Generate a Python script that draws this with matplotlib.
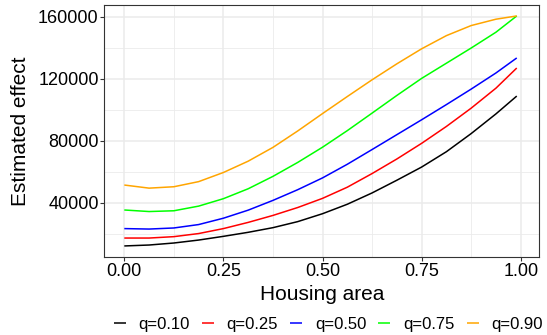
import numpy as np
import matplotlib
matplotlib.use("Agg")
import matplotlib.pyplot as plt

plt.rcParams['font.family'] = ['Liberation Sans', 'DejaVu Sans']

# Values
housing_area = [0.0, 0.0625, 0.125, 0.1875, 0.25, 0.3125, 0.375, 0.4375, 0.5,
                0.5625, 0.625, 0.6875, 0.75, 0.8125, 0.875, 0.9375, 0.99]

effect_q10 = [12100, 12700, 14000, 15900, 18300, 20900, 23900, 27800, 32900,
              39000, 46300, 54500, 63000, 72900, 84600, 97300, 108800]
effect_q25 = [17200, 17200, 18100, 20100, 23300, 27300, 31800, 36900, 42800,
              50000, 58800, 68200, 78300, 89200, 101000, 113900, 126900]
effect_q50 = [23300, 23000, 23700, 25900, 30000, 35200, 41500, 48400, 56000,
              64800, 74300, 83900, 93500, 103300, 113300, 123700, 133400]
effect_q75 = [35300, 34300, 34800, 37800, 42600, 49000, 57000, 66000, 75800,
              86500, 97800, 109200, 120200, 130000, 139800, 150000, 160500]
effect_q90 = [51400, 49400, 50300, 53600, 59500, 66800, 75700, 86300, 97500,
              108500, 119300, 129600, 139300, 147800, 154300, 158400, 160500]

series_labels = ["q=0.10", "q=0.25", "q=0.50", "q=0.75", "q=0.90"]
series_colors = ["black", "red", "blue", "#00FF00", "orange"]

x_ticks = [0.0, 0.25, 0.5, 0.75, 1.0]
x_ticklabels = ["0.00", "0.25", "0.50", "0.75", "1.00"]
y_ticks = [40000, 80000, 120000, 160000]

W, H = 547, 335
fig = plt.figure(figsize=(W / 100, H / 100), dpi=100)
ax = fig.add_axes([104.3 / W, 1 - 257 / H, 435 / W, 251.7 / H])

grid_col = '#EBEBEB'
# minor grid
for xm in [0.125, 0.375, 0.625, 0.875]:
    ax.axvline(xm, color=grid_col, lw=0.6, zorder=0)
for ym in [20000, 60000, 100000, 140000]:
    ax.axhline(ym, color=grid_col, lw=0.6, zorder=0)
# major grid
for xt in x_ticks:
    ax.axvline(xt, color=grid_col, lw=1.1, zorder=0)
for yt in y_ticks:
    ax.axhline(yt, color=grid_col, lw=1.1, zorder=0)

all_series = [effect_q10, effect_q25, effect_q50, effect_q75, effect_q90]
for vals, lab, col in zip(all_series, series_labels, series_colors):
    ax.plot(housing_area, vals, color=col, lw=1.1, label=lab, zorder=3,
            solid_capstyle='butt', solid_joinstyle='round')

ax.set_xlim(-0.0505, 1.0469)
ax.set_ylim(4970, 167370)

ax.set_xticks(x_ticks)
ax.set_xticklabels(x_ticklabels)
ax.set_yticks(y_ticks)
ax.set_yticklabels([str(v) for v in y_ticks])
ax.tick_params(axis='both', length=2.8, width=0.8, color='#333333',
               labelsize=13, labelcolor='black', pad=1.2)

for sp in ax.spines.values():
    sp.set_color('#333333')
    sp.set_linewidth(0.8)

ax.set_xlabel("Housing area", fontsize=15, va='center')
ax.set_ylabel("Estimated effect", fontsize=15, va='center')
ax.xaxis.set_label_coords((322.5 - 104.3) / 435, -(294.4 - 257) / 251.7)
ax.yaxis.set_label_coords(-(104.3 - 20) / 435, 0.5)

handles, labels = ax.get_legend_handles_labels()
leg = fig.legend(handles, labels, loc='center', ncol=5, frameon=False,
                 bbox_to_anchor=(328.3 / W, 1 - 324.1 / H), fontsize=12,
                 handlelength=0.72, handletextpad=0.76, columnspacing=0.73,
                 borderpad=0, borderaxespad=0)

fig.savefig("out.png", dpi=100)
